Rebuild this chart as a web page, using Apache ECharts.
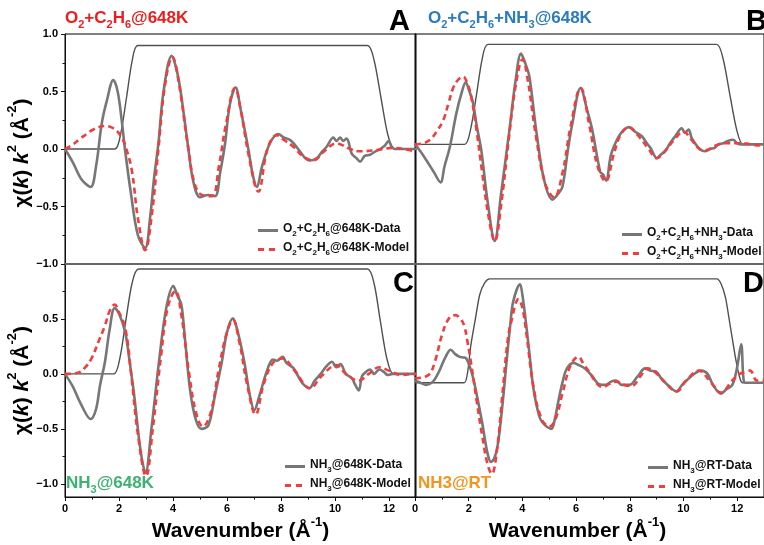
<!DOCTYPE html>
<html>
<head>
<meta charset="utf-8">
<script src="https://cdn.jsdelivr.net/npm/echarts@6/dist/echarts.min.js"></script>
<style>html,body{margin:0;padding:0;background:#fff}#c{width:764px;height:545px}</style>
</head>
<body>
<div id="c"></div>
<script>
// k (Å^-1) and chi(k)*k^2 (Å^-2) pairs for each EXAFS panel
const aData = [[0,0],[0.3,-0.12],[0.6,-0.26],[0.95,-0.33],[1.15,-0.15],[1.36,0.22],[1.55,0.42],[1.79,0.6],[1.95,0.5],[2.1,0.25],[2.22,0],[2.45,-0.4],[2.7,-0.75],[2.97,-0.86],[3.15,-0.6],[3.3,-0.25],[3.46,0.05],[3.65,0.5],[3.95,0.81],[4.1,0.72],[4.25,0.55],[4.4,0.3],[4.57,0],[4.75,-0.28],[5.0,-0.42],[5.3,-0.4],[5.56,-0.41],[5.75,-0.2],[5.93,0.05],[6.1,0.38],[6.32,0.535],[6.5,0.35],[6.79,0],[6.95,-0.22],[7.1,-0.33],[7.3,-0.15],[7.59,0.05],[7.9,0.13],[8.1,0.1],[8.33,0.08],[8.5,0.04],[8.7,-0.02],[8.9,-0.08],[9.07,-0.1],[9.32,-0.08],[9.5,-0.03],[9.69,0.02],[9.94,0.1],[10.05,0.07],[10.19,0.1],[10.3,0.07],[10.43,0.09],[10.62,-0.04],[10.8,-0.08],[10.93,-0.11],[11.1,-0.06],[11.3,-0.05],[11.5,-0.02],[11.67,0],[11.85,0.03],[11.98,0.07],[12.1,0.02],[12.2,0],[13,0]];
const aModel = [[0,0],[0.3,0.04],[0.56,0.09],[0.8,0.13],[1.05,0.17],[1.48,0.2],[1.7,0.19],[1.91,0.16],[2.1,0.1],[2.22,0.04],[2.47,-0.18],[2.7,-0.6],[2.97,-0.88],[3.2,-0.6],[3.46,0.0],[3.7,0.55],[3.98,0.8],[4.2,0.6],[4.57,0.0],[4.8,-0.3],[5.07,-0.4],[5.44,-0.41],[5.7,-0.15],[5.95,0.2],[6.3,0.53],[6.5,0.35],[6.8,-0.05],[7.16,-0.37],[7.5,0.0],[7.84,0.12],[8.1,0.08],[8.46,0.02],[8.8,-0.06],[9.2,-0.1],[9.6,-0.02],[10.06,0.05],[10.3,0.03],[10.56,0],[10.93,-0.02],[11.54,-0.01],[12.16,0.01],[12.77,-0.01],[13,-0.02]];
const aWindow = [[0,0],[1.85,0],[2.06,0.13],[2.28,0.45],[2.49,0.77],[2.7,0.9],[11.2,0.9],[11.45,0.77],[11.7,0.45],[11.95,0.13],[12.2,0],[13,0]];

const bData = [[0,0.04],[0.2,-0.02],[0.43,-0.1],[0.7,-0.2],[0.95,-0.29],[1.1,-0.15],[1.3,0.02],[1.54,0.31],[1.75,0.5],[1.89,0.58],[2.0,0.52],[2.16,0.4],[2.3,0.2],[2.47,-0.01],[2.7,-0.45],[2.97,-0.8],[3.2,-0.4],[3.52,0.17],[3.75,0.6],[3.95,0.83],[4.1,0.75],[4.26,0.63],[4.51,0.17],[4.81,-0.27],[5.12,-0.44],[5.3,-0.4],[5.49,-0.33],[5.7,0.0],[5.86,0.22],[6.17,0.53],[6.4,0.35],[6.6,0.17],[6.9,-0.2],[7.0,-0.22],[7.12,-0.275],[7.3,-0.05],[7.59,0.11],[7.8,0.17],[7.96,0.19],[8.2,0.15],[8.46,0.11],[8.6,0.06],[8.77,0.01],[9.01,-0.08],[9.15,-0.05],[9.32,-0.02],[9.5,0.05],[9.69,0.11],[9.94,0.18],[10.05,0.14],[10.19,0.17],[10.3,0.1],[10.43,0.05],[10.6,0.0],[10.8,-0.02],[11.0,0.0],[11.16,0.01],[11.3,0.04],[11.48,0.05],[11.65,0.07],[11.85,0.08],[12.0,0.05],[12.16,0.04],[13,0.04]];
const bModel = [[0,0.04],[0.3,0.05],[0.56,0.08],[0.8,0.15],[1.05,0.25],[1.25,0.4],[1.42,0.53],[1.6,0.6],[1.79,0.63],[1.95,0.57],[2.1,0.45],[2.3,0.15],[2.5,-0.2],[2.75,-0.6],[2.97,-0.8],[3.2,-0.5],[3.5,0.1],[3.75,0.55],[4.01,0.78],[4.2,0.6],[4.5,0.12],[4.85,-0.3],[5.18,-0.42],[5.5,-0.2],[5.8,0.2],[6.17,0.53],[6.5,0.2],[6.8,-0.15],[7.1,-0.28],[7.4,-0.05],[7.65,0.12],[7.96,0.19],[8.3,0.12],[8.7,0.0],[9.01,-0.08],[9.3,-0.02],[9.65,0.08],[10.0,0.15],[10.3,0.08],[10.6,0.0],[10.8,-0.01],[11.2,0.03],[11.54,0.05],[12.16,0.05],[12.9,0.03],[13,0.03]];
const bWindow = [[0,0.04],[1.85,0.04],[2.07,0.17],[2.29,0.47],[2.5,0.78],[2.72,0.91],[11.23,0.91],[11.48,0.78],[11.73,0.47],[11.98,0.17],[12.22,0.04],[13,0.04]];

const cData = [[0,0],[0.3,-0.12],[0.6,-0.28],[0.95,-0.41],[1.15,-0.32],[1.3,-0.1],[1.48,0.11],[1.65,0.4],[1.84,0.6],[2.0,0.55],[2.23,0.38],[2.4,0.1],[2.56,-0.19],[2.8,-0.7],[2.98,-0.9],[3.2,-0.5],[3.48,0.11],[3.75,0.6],[4.01,0.8],[4.15,0.72],[4.31,0.63],[4.45,0.3],[4.64,-0.16],[4.85,-0.42],[5.06,-0.5],[5.31,-0.47],[5.55,-0.2],[5.81,0.11],[6.0,0.38],[6.22,0.505],[6.4,0.38],[6.64,0.11],[6.85,-0.2],[7.01,-0.33],[7.2,-0.2],[7.47,0.02],[7.7,0.13],[7.85,0.12],[8.06,0.155],[8.2,0.1],[8.47,0.05],[8.7,-0.05],[8.85,-0.1],[9.05,-0.13],[9.25,-0.06],[9.47,0],[9.65,0.06],[9.89,0.11],[10.05,0.06],[10.2,0.09],[10.4,0.0],[10.63,-0.04],[10.75,-0.1],[10.88,-0.15],[11.0,-0.02],[11.15,0.02],[11.3,0.04],[11.45,0.0],[11.64,0.04],[11.8,0.02],[11.96,-0.01],[12.13,0],[13,0]];
const cModel = [[0,0],[0.48,0.01],[0.75,0.06],[0.98,0.14],[1.25,0.3],[1.48,0.44],[1.65,0.57],[1.84,0.63],[2.0,0.56],[2.23,0.42],[2.45,0.0],[2.7,-0.55],[3.0,-0.93],[3.25,-0.5],[3.55,0.15],[3.8,0.6],[4.09,0.755],[4.3,0.55],[4.6,0.0],[4.85,-0.35],[5.11,-0.48],[5.4,-0.35],[5.7,0.05],[6.0,0.38],[6.22,0.49],[6.45,0.3],[6.75,-0.1],[7.06,-0.37],[7.35,-0.1],[7.7,0.1],[8.06,0.14],[8.5,0.03],[9.08,-0.13],[9.5,-0.02],[10.05,0.08],[10.4,0.0],[10.88,-0.06],[11.25,0.0],[11.64,0.06],[12.0,0.03],[12.47,-0.01],[12.9,0],[13,0]];
const cWindow = [[0,0],[1.81,0],[2.03,0.14],[2.25,0.48],[2.48,0.82],[2.73,0.955],[11.2,0.955],[11.45,0.82],[11.68,0.48],[11.92,0.14],[12.16,0],[13,0]];

const dData = [[0,-0.06],[0.2,-0.08],[0.42,-0.1],[0.67,-0.07],[0.85,0.0],[1.0,0.08],[1.15,0.16],[1.33,0.22],[1.5,0.18],[1.67,0.155],[1.8,0.15],[1.91,0.14],[2.05,0.06],[2.17,-0.04],[2.35,-0.25],[2.5,-0.44],[2.7,-0.72],[2.83,-0.8],[2.95,-0.77],[3.08,-0.65],[3.25,-0.3],[3.41,0.11],[3.55,0.45],[3.66,0.66],[3.91,0.815],[4.0,0.72],[4.16,0.41],[4.3,0.1],[4.41,-0.13],[4.6,-0.36],[4.74,-0.44],[5.08,-0.5],[5.2,-0.42],[5.33,-0.26],[5.5,-0.07],[5.66,0.05],[5.91,0.1],[6.1,0.08],[6.33,0.05],[6.6,-0.02],[6.83,-0.09],[7.1,-0.1],[7.3,-0.07],[7.49,-0.06],[7.7,-0.1],[7.99,-0.1],[8.3,-0.02],[8.57,0.05],[8.75,0.03],[8.98,0.02],[9.2,-0.05],[9.5,-0.12],[9.74,-0.16],[9.95,-0.1],[10.16,-0.05],[10.4,0.0],[10.66,0.03],[10.9,0.0],[11.1,-0.1],[11.4,-0.18],[11.6,-0.14],[11.82,-0.1],[11.99,0.05],[12.15,0.27],[12.23,-0.03],[12.3,-0.08],[13,-0.08]];
const dModel = [[0,-0.04],[0.5,-0.01],[0.75,0.12],[1.0,0.35],[1.25,0.5],[1.5,0.535],[1.7,0.5],[1.83,0.44],[1.95,0.3],[2.08,0.11],[2.3,-0.25],[2.5,-0.56],[2.7,-0.82],[2.86,-0.91],[3.05,-0.7],[3.25,-0.2],[3.45,0.3],[3.58,0.47],[3.86,0.68],[4.0,0.6],[4.16,0.35],[4.4,-0.1],[4.7,-0.4],[5.0,-0.48],[5.25,-0.4],[5.5,-0.17],[5.8,0.08],[6.08,0.155],[6.3,0.08],[6.49,0.02],[6.75,-0.08],[6.99,-0.12],[7.25,-0.09],[7.49,-0.07],[7.8,-0.1],[8.07,-0.11],[8.4,-0.02],[8.66,0.05],[9.06,-0.01],[9.4,-0.1],[9.74,-0.16],[10.1,-0.06],[10.58,0.03],[11.0,-0.07],[11.4,-0.17],[11.82,-0.06],[12.1,0.0],[12.32,0.02],[12.48,0.03],[12.74,-0.06],[13,-0.06]];
const dWindow = [[0,-0.08],[1.83,-0.08],[1.95,0.0],[2.08,0.26],[2.25,0.5],[2.41,0.72],[2.6,0.83],[2.78,0.865],[11.24,0.865],[11.4,0.82],[11.57,0.69],[11.7,0.5],[11.82,0.32],[11.95,0.13],[12.07,-0.01],[12.2,-0.08],[13,-0.08]];

// axis ticks and labels
const xLabelTicks = [0, 2, 4, 6, 8, 10, 12];
const xMinorTicks = [1, 3, 5, 7, 9, 11];
const yLowerLabels = [-1, -0.5, 0, 0.5];
const yLowerMinor = [-0.75, -0.25, 0.25, 0.75];

const FF = '"Liberation Sans", Arial, Helvetica, sans-serif';
const fmtY = v => v.toFixed(1).replace('-', '\u2212');

// rich-text styles: n = normal, s = subscript
function subRich(size, color) {
  return {
    n: { fontFamily: FF, fontWeight: 'bold', fontSize: size, color: color, lineHeight: size + 3, verticalAlign: 'top' },
    s: { fontFamily: FF, fontWeight: 'bold', fontSize: Math.round(size * 0.65), color: color,
         lineHeight: Math.round(size * 0.65), padding: [Math.round(size * 0.55), 0, 0, 0], verticalAlign: 'top' }
  };
}
const supRich = {
  g: { fontFamily: FF, fontWeight: 'bold', fontSize: 21, color: '#000', lineHeight: 26, verticalAlign: 'bottom' },
  i: { fontFamily: FF, fontWeight: 'bold', fontStyle: 'italic', fontSize: 21, color: '#000', lineHeight: 26, verticalAlign: 'bottom' },
  sup: { fontFamily: FF, fontWeight: 'bold', fontSize: 13, color: '#000', lineHeight: 13, verticalAlign: 'top' }
};
const yName = '{g|\u03c7(}{i|k}{g|) }{i|k}{sup|2}{g| (\u00c5}{sup|-2}{g|)}';
const xName = '{g|Wavenumber (\u00c5}{sup|-1}{g|)}';

const legendLabels = {
  'O2+C2H6@648K-Data': '{n|O}{s|2}{n|+C}{s|2}{n|H}{s|6}{n|@648K-Data}',
  'O2+C2H6@648K-Model': '{n|O}{s|2}{n|+C}{s|2}{n|H}{s|6}{n|@648K-Model}',
  'O2+C2H6+NH3-Data': '{n|O}{s|2}{n|+C}{s|2}{n|H}{s|6}{n|+NH}{s|3}{n|-Data}',
  'O2+C2H6+NH3-Model': '{n|O}{s|2}{n|+C}{s|2}{n|H}{s|6}{n|+NH}{s|3}{n|-Model}',
  'NH3@648K-Data': '{n|NH}{s|3}{n|@648K-Data}',
  'NH3@648K-Model': '{n|NH}{s|3}{n|@648K-Model}',
  'NH3@RT-Data': '{n|NH}{s|3}{n|@RT-Data}',
  'NH3@RT-Model': '{n|NH}{s|3}{n|@RT-Model}'
};

const DATA_C = '#777777', MODEL_C = '#f23d3d', WIN_C = '#505050';
// legend swatches: a solid bar for data, two short dashes for the model
const SOLID_ICON = 'path://M0,0H20V3H0Z';
const DASH_ICON = 'path://M0,0H6V3H0Z M11,0H17V3H11Z M20,0H20.01V3H20Z';

function winSeries(data, i) {
  return { type: 'line', name: 'window' + i, data: data, xAxisIndex: i, yAxisIndex: i, symbol: 'none',
           smooth: 0.25, lineStyle: { color: WIN_C, width: 1.4 }, z: 2, silent: true };
}
function dataSeries(name, data, i) {
  return { type: 'line', name: name, data: data, xAxisIndex: i, yAxisIndex: i, symbol: 'none',
           smooth: 0.35, color: DATA_C, lineStyle: { color: DATA_C, width: 2.6 }, z: 3 };
}
function modelSeries(name, data, i) {
  return { type: 'line', name: name, data: data, xAxisIndex: i, yAxisIndex: i, symbol: 'none',
           smooth: 0.4, color: MODEL_C, lineStyle: { color: MODEL_C, width: 2.6, type: [6, 4] }, z: 4 };
}
function legend(names, left, top) {
  return { data: [{ name: names[0], icon: SOLID_ICON }, { name: names[1], icon: DASH_ICON }],
           left: left, top: top, orient: 'vertical', itemWidth: 20, itemHeight: 3, itemGap: 4,
           padding: 0, formatter: n => legendLabels[n], textStyle: { rich: subRich(12, '#111') } };
}
function title(text, left, top, size, color) {
  return { text: text, left: left, top: top, padding: 0, textStyle: { rich: subRich(size, color) } };
}
function letter(ch, left, top) {
  return { text: ch, left: left, top: top, padding: 0,
           textStyle: { fontFamily: FF, fontWeight: 'bold', fontSize: 29, color: '#000', lineHeight: 30 } };
}

const noTick = { show: false };
const gridBase = { show: true, borderColor: '#000', borderWidth: 1, backgroundColor: 'transparent' };

const option = {
  animation: false,
  backgroundColor: '#fff',
  grid: [
    Object.assign({ left: 65, top: 34, width: 351, height: 230 }, gridBase),
    Object.assign({ left: 415, top: 34, width: 351, height: 230 }, gridBase),
    Object.assign({ left: 65, top: 264, width: 351, height: 233 }, gridBase),
    Object.assign({ left: 415, top: 264, width: 351, height: 233 }, gridBase)
  ],
  xAxis: [
    { type: 'value', gridIndex: 0, min: 0, max: 13, axisLine: { onZero: false, lineStyle: { color: '#666', width: 2 } }, axisTick: noTick, axisLabel: noTick, splitLine: noTick },
    { type: 'value', gridIndex: 1, min: 0, max: 13, axisLine: { onZero: false, lineStyle: { color: '#666', width: 2 } }, axisTick: noTick, axisLabel: noTick, splitLine: noTick },
    { type: 'value', gridIndex: 2, min: 0, max: 13, position: 'bottom',
      axisLine: { onZero: false, lineStyle: { color: '#111', width: 1.2 } },
      axisTick: { inside: false, length: 4, customValues: xLabelTicks, lineStyle: { color: '#111' } },
      axisLabel: { customValues: xLabelTicks, margin: 6, fontFamily: FF, fontWeight: 'bold', fontSize: 11, color: '#000' },
      splitLine: noTick,
      name: xName, nameLocation: 'middle', nameGap: 19, nameTextStyle: { rich: supRich } },
    { type: 'value', gridIndex: 3, min: 0, max: 13, position: 'bottom',
      axisLine: { onZero: false, lineStyle: { color: '#111', width: 1.2 } },
      axisTick: { inside: false, length: 4, customValues: xLabelTicks, lineStyle: { color: '#111' } },
      axisLabel: { customValues: xLabelTicks, margin: 6, fontFamily: FF, fontWeight: 'bold', fontSize: 11, color: '#000' },
      splitLine: noTick,
      name: xName, nameLocation: 'middle', nameGap: 19, nameTextStyle: { rich: supRich, padding: [0, 24, 0, 0] } },
    { type: 'value', gridIndex: 2, min: 0, max: 13, position: 'bottom', axisLine: { show: false, onZero: false },
      axisTick: { length: 2.5, customValues: xMinorTicks, lineStyle: { color: '#111' } }, axisLabel: noTick, splitLine: noTick },
    { type: 'value', gridIndex: 3, min: 0, max: 13, position: 'bottom', axisLine: { show: false, onZero: false },
      axisTick: { length: 2.5, customValues: xMinorTicks, lineStyle: { color: '#111' } }, axisLabel: noTick, splitLine: noTick }
  ],
  yAxis: [
    { type: 'value', gridIndex: 0, min: -1, max: 1, interval: 0.5, position: 'left',
      axisLine: { onZero: false, lineStyle: { color: '#111' } },
      axisTick: { length: 4, lineStyle: { color: '#111' } },
      minorTick: { show: true, splitNumber: 2, length: 2.5, lineStyle: { color: '#111' } },
      axisLabel: { formatter: fmtY, margin: 7, fontFamily: FF, fontWeight: 'bold', fontSize: 11, color: '#000' },
      splitLine: noTick,
      name: yName, nameLocation: 'middle', nameGap: 22, nameTextStyle: { rich: supRich, padding: [0, 8, 0, 0] } },
    { type: 'value', gridIndex: 1, min: -1, max: 1, position: 'left',
      axisLine: { onZero: false, lineStyle: { color: '#111' } }, axisTick: noTick, axisLabel: noTick, splitLine: noTick },
    { type: 'value', gridIndex: 2, min: -1.12, max: 1.0, position: 'left',
      axisLine: { onZero: false, lineStyle: { color: '#111' } },
      axisTick: { length: 4, customValues: yLowerLabels, lineStyle: { color: '#111' } },
      axisLabel: { customValues: yLowerLabels, formatter: fmtY, margin: 7, fontFamily: FF, fontWeight: 'bold', fontSize: 11, color: '#000' },
      splitLine: noTick,
      name: yName, nameLocation: 'middle', nameGap: 22, nameTextStyle: { rich: supRich } },
    { type: 'value', gridIndex: 3, min: -1.12, max: 1.0, position: 'left',
      axisLine: { onZero: false, lineStyle: { color: '#111' } }, axisTick: noTick, axisLabel: noTick, splitLine: noTick },
    { type: 'value', gridIndex: 2, min: -1.12, max: 1.0, position: 'left', axisLine: { show: false, onZero: false },
      axisTick: { length: 2.5, customValues: yLowerMinor, lineStyle: { color: '#111' } }, axisLabel: noTick, splitLine: noTick }
  ],
  title: [
    title('{n|O}{s|2}{n|+C}{s|2}{n|H}{s|6}{n|@648K}', 65, 10, 17, '#f01c1c'),
    title('{n|O}{s|2}{n|+C}{s|2}{n|H}{s|6}{n|+NH}{s|3}{n|@648K}', 428, 10, 17, '#2b7bbd'),
    title('{n|NH}{s|3}{n|@648K}', 66, 475, 17, '#3cb371'),
    title('{n|NH3@RT}', 418, 475, 17, '#f7931e'),
    letter('A', 389, 7),
    letter('B', 746, 7),
    letter('C', 393, 269),
    letter('D', 743, 269)
  ],
  legend: [
    legend(['O2+C2H6@648K-Data', 'O2+C2H6@648K-Model'], 258, 223),
    legend(['O2+C2H6+NH3-Data', 'O2+C2H6+NH3-Model'], 622, 227),
    legend(['NH3@648K-Data', 'NH3@648K-Model'], 285, 459),
    legend(['NH3@RT-Data', 'NH3@RT-Model'], 648, 460)
  ],
  series: [
    winSeries(aWindow, 0), dataSeries('O2+C2H6@648K-Data', aData, 0), modelSeries('O2+C2H6@648K-Model', aModel, 0),
    winSeries(bWindow, 1), dataSeries('O2+C2H6+NH3-Data', bData, 1), modelSeries('O2+C2H6+NH3-Model', bModel, 1),
    winSeries(cWindow, 2), dataSeries('NH3@648K-Data', cData, 2), modelSeries('NH3@648K-Model', cModel, 2),
    winSeries(dWindow, 3), dataSeries('NH3@RT-Data', dData, 3), modelSeries('NH3@RT-Model', dModel, 3)
  ]
};

const chart = echarts.init(document.getElementById('c'), null, { renderer: 'canvas' });
chart.setOption(option);
</script>
</body>
</html>
